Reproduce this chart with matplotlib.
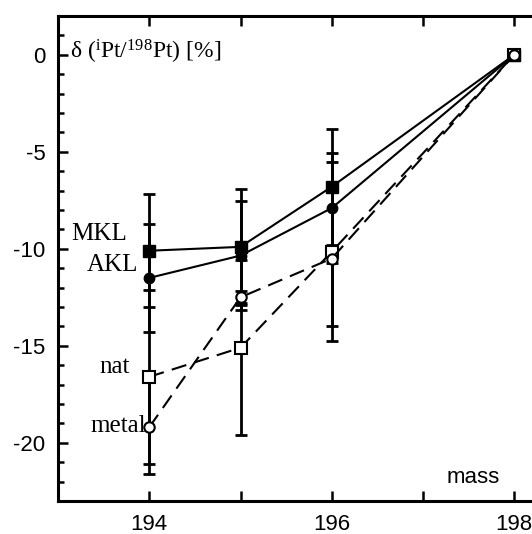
import matplotlib
matplotlib.use('Agg')
import matplotlib.pyplot as plt

plt.rcParams['font.family'] = 'Liberation Sans'
plt.rcParams['mathtext.fontset'] = 'custom'
plt.rcParams['mathtext.rm'] = 'Liberation Serif'
plt.rcParams['mathtext.it'] = 'Liberation Serif:italic'
plt.rcParams['lines.scale_dashes'] = False

# isotope masses
mass = [194, 195, 196, 198]

# delta values (%) and errors for each sample
mkl = [-10.1, -9.9, -6.8, 0]
mkl_err = [2.9, 3.0, 3.0, 0]
akl = [-11.5, -10.35, -7.9, 0]
akl_err = [2.8, 2.8, 2.85, 0]
nat = [-16.6, -15.1, -10.15, 0]
nat_err = [4.5, 4.5, 4.6, 0]
metal = [-19.2, -12.5, -10.5, 0]
metal_err = [2.4, 0.3, 3.5, 0]

fig = plt.figure(figsize=(5.32, 5.34), dpi=100)
ax = fig.add_axes([58/532, 33/534, 547.5/532, 485/534])

# error bars first, markers on top
for y, e in [(mkl, mkl_err), (akl, akl_err), (nat, nat_err), (metal, metal_err)]:
    ax.errorbar(mass[:3], y[:3], yerr=e[:3], fmt='none', ecolor='black',
                elinewidth=2.0, capsize=4.5, capthick=2.0, zorder=2)

ax.plot(mass, mkl, color='black', lw=1.5, marker='s', ms=8,
        mfc='black', mec='black', zorder=3)
ax.plot(mass, akl, color='black', lw=1.5, marker='o', ms=7.5,
        mfc='black', mec='black', zorder=3)
ax.plot(mass, nat, color='black', lw=1.5, dashes=(11, 6), marker='s', ms=8.5,
        mfc='white', mec='black', mew=1.5, zorder=3)
ax.plot(mass, metal, color='black', lw=1.5, dashes=(11, 6), marker='o', ms=7.5,
        mfc='white', mec='black', mew=1.5, zorder=4)

serif = 'Liberation Serif'
ax.text(193.76, -9.56, 'MKL', family=serif, fontsize=18, ha='right', va='baseline')
ax.text(193.88, -11.16, 'AKL', family=serif, fontsize=18, ha='right', va='baseline')
ax.text(193.79, -16.38, 'nat', family=serif, fontsize=18, ha='right', va='baseline')
ax.text(193.96, -19.43, 'metal', family=serif, fontsize=18, ha='right', va='baseline')

ax.text(0.022, 0.913, r'δ ($^{\mathrm{i}}$Pt/$^{198}$Pt) [%]', family=serif,
        fontsize=17, transform=ax.transAxes, ha='left', va='baseline')
ax.text(0.807, 0.037, 'mass', fontsize=16, transform=ax.transAxes,
        ha='right', va='baseline')

ax.set_xlim(193, 199)
ax.set_ylim(-23, 2)
ax.set_xticks([194, 195, 196, 197, 198])
ax.set_xticklabels(['194', '', '196', '', '198'])
ax.set_yticks([-20, -15, -10, -5, 0])
ax.set_yticklabels(['-20', '-15', '-10', '-5', '0'])
ax.set_yticks(range(-23, 3), minor=True)

ax.tick_params(axis='both', which='major', direction='in', length=7, width=1.8,
               labelsize=16, pad=9, top=True, right=True)
ax.tick_params(axis='y', which='minor', direction='in', length=4.3, width=1.8,
               right=True)
ax.tick_params(axis='x', which='minor', bottom=False, top=False)
for s in ax.spines.values():
    s.set_linewidth(2.2)

fig.savefig('out.png', dpi=100)
